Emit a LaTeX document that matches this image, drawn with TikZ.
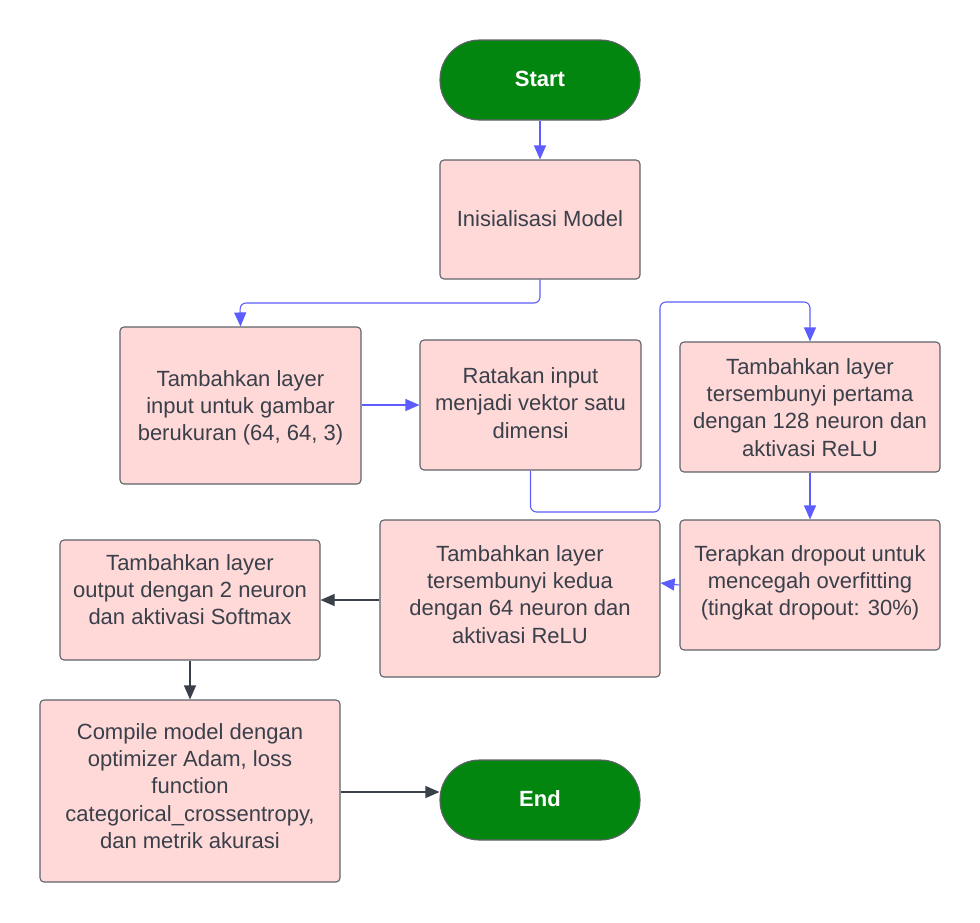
\documentclass[tikz,border=0pt]{standalone}
\usepackage{fontspec}
\setmainfont{Liberation Sans}
\usetikzlibrary{arrows.meta}
\definecolor{pinkfill}{HTML}{FFD8D8}
\definecolor{boxline}{HTML}{5F636B}
\definecolor{txtc}{HTML}{3A404A}
\definecolor{greenfill}{HTML}{03860F}
\definecolor{bluearr}{HTML}{5C5CFF}
\definecolor{darkarr}{HTML}{3A404A}
\begin{document}
\begin{tikzpicture}[x=1pt,y=-1pt,
  box/.style={draw=boxline,line width=1.1pt,fill=pinkfill,rounded corners=4pt,inner sep=0pt},
  pill/.style={draw=boxline,line width=1.1pt,fill=greenfill,rounded corners=39.5pt,inner sep=0pt,minimum width=200pt,minimum height=80pt,text=white,font=\fontsize{22}{27}\selectfont\bfseries},
  txt/.style={text=txtc,align=center,inner sep=0pt,font=\fontsize{22}{27.2}\selectfont},
  barr/.style={draw=bluearr,line width=1.1pt,rounded corners=6pt,-{Triangle[length=14pt,width=12pt]}},
  darr/.style={draw=darkarr,line width=1.1pt,-{Triangle[length=14pt,width=12pt]}}]
\useasboundingbox (0,0) rectangle (980,922);
% terminals
\node[pill] (start) at (540,80) {\raisebox{2.5pt}{Start}};
\node[pill] (end) at (540,800) {\raisebox{2.5pt}{End}};
% boxes
\node[box,minimum width=200pt,minimum height=119pt] (init) at (540,219.5) {};
\node[txt] (tinit) at (540,219) {Inisialisasi Model};
\node[box,minimum width=241pt,minimum height=157pt] (inp) at (240.5,405.5) {};
\node[txt] (tinp) at (240.5,408) {Tambahkan layer\\input untuk gambar\\berukuran (64, 64, 3)};
\node[box,minimum width=221pt,minimum height=130pt] (flat) at (530.5,405) {};
\node[txt] (tflat) at (530.5,403) {Ratakan input\\menjadi vektor satu\\dimensi};
\node[box,minimum width=260pt,minimum height=130pt] (h1) at (810,407) {};
\node[txt] (th1) at (810,407.5) {Tambahkan layer\\tersembunyi pertama\\dengan 128 neuron dan\\aktivasi ReLU};
\node[box,minimum width=260pt,minimum height=130pt] (drop) at (810,585) {};
\node[txt] (tdrop) at (810,583) {Terapkan dropout untuk\\mencegah overfitting\\(tingkat dropout: 30\%)};
\node[box,minimum width=280pt,minimum height=157pt] (h2) at (520,598.5) {};
\node[txt] (th2) at (520,594.5) {Tambahkan layer\\tersembunyi kedua\\dengan 64 neuron dan\\aktivasi ReLU};
\node[box,minimum width=260pt,minimum height=120pt] (out) at (190,600) {};
\node[txt] (tout) at (190,589.5) {Tambahkan layer\\output dengan 2 neuron\\dan aktivasi Softmax};
\node[box,minimum width=300pt,minimum height=182pt] (comp) at (190,791) {};
\node[txt] (tcomp) at (190,786) {Compile model dengan\\optimizer Adam, loss\\function\\categorical\_crossentropy,\\dan metrik akurasi};
% connectors
\draw[barr] (start) -- (init);
\draw[barr] (init.south) |- (240,303) -- (inp.north);
\draw[barr] (inp.east |- 0,405) -- (flat.west |- 0,405);
\draw[barr] (flat.south) |- (660,512) |- (810,302) -- (h1.north);
\draw[barr] (h1) -- (drop);
\draw[barr] (drop.west) -- (h2.east |- 0,583);
\draw[darr] (h2.west |- 0,600) -- (out.east |- 0,600);
\draw[darr] (out) -- (comp);
\draw[darr] (comp.east |- 0,792) -- (end.west |- 0,792);
\end{tikzpicture}
\end{document}
